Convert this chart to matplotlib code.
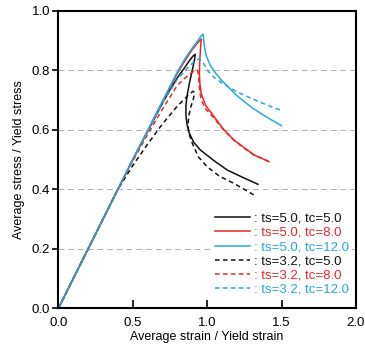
import matplotlib
matplotlib.use("Agg")
import matplotlib.pyplot as plt

plt.rcParams['font.family'] = ['Liberation Sans', 'DejaVu Sans']

BLACK = '#111111'
RED = '#e8262a'
CYAN = '#27a9d9'

# ts=5.0, tc=5.0 (solid black)
s50_5_x = [0.0, 0.5, 0.6, 0.7, 0.75, 0.8, 0.85, 0.88, 0.905, 0.92, 0.915, 0.90, 0.88, 0.865, 0.857, 0.858, 0.866, 0.88, 0.91, 0.955, 1.05, 1.135, 1.24, 1.342]
s50_5_y = [0.0, 0.5, 0.595, 0.69, 0.735, 0.775, 0.81, 0.832, 0.848, 0.854, 0.835, 0.80, 0.755, 0.715, 0.68, 0.645, 0.615, 0.589, 0.558, 0.532, 0.495, 0.465, 0.44, 0.417]
# ts=5.0, tc=8.0 (solid red)
s50_8_x = [0.0, 0.5, 0.6, 0.7, 0.8, 0.85, 0.9, 0.935, 0.955, 0.96, 0.955, 0.95, 0.948, 0.951, 0.96, 0.99, 1.045, 1.11, 1.18, 1.25, 1.315, 1.416]
s50_8_y = [0.0, 0.5, 0.597, 0.695, 0.79, 0.832, 0.87, 0.892, 0.903, 0.905, 0.87, 0.83, 0.79, 0.757, 0.722, 0.682, 0.645, 0.602, 0.566, 0.54, 0.516, 0.493]
# ts=5.0, tc=12.0 (solid cyan)
s50_12_x = [0.0, 0.5, 0.6, 0.7, 0.8, 0.85, 0.9, 0.94, 0.962, 0.972, 0.976, 0.983, 0.995, 1.02, 1.05, 1.1, 1.2, 1.3, 1.4, 1.5]
s50_12_y = [0.0, 0.5, 0.598, 0.697, 0.795, 0.838, 0.875, 0.902, 0.917, 0.922, 0.905, 0.875, 0.848, 0.818, 0.795, 0.765, 0.715, 0.675, 0.643, 0.614]
# ts=3.2, tc=5.0 (dashed black)
s32_5_x = [0.0, 0.4, 0.5, 0.6, 0.7, 0.8, 0.87, 0.905, 0.915, 0.908, 0.892, 0.878, 0.872, 0.876, 0.9, 0.94, 1.0, 1.08, 1.18, 1.315]
s32_5_y = [0.0, 0.4, 0.48, 0.552, 0.62, 0.68, 0.715, 0.73, 0.725, 0.705, 0.68, 0.65, 0.622, 0.59, 0.555, 0.51, 0.476, 0.445, 0.42, 0.381]
# ts=3.2, tc=8.0 (dashed red)
s32_8_x = [0.0, 0.45, 0.5, 0.6, 0.7, 0.8, 0.88, 0.915, 0.935, 0.942, 0.945, 0.95, 0.96, 0.99, 1.045, 1.11, 1.18, 1.25, 1.315, 1.41]
s32_8_y = [0.0, 0.45, 0.495, 0.585, 0.67, 0.75, 0.787, 0.798, 0.80, 0.785, 0.76, 0.73, 0.70, 0.67, 0.64, 0.60, 0.565, 0.538, 0.515, 0.495]
# ts=3.2, tc=12.0 (dashed cyan)
s32_12_x = [0.0, 0.5, 0.6, 0.7, 0.8, 0.88, 0.92, 0.945, 0.965, 0.985, 1.01, 1.05, 1.1, 1.2, 1.3, 1.4, 1.5]
s32_12_y = [0.0, 0.5, 0.595, 0.69, 0.77, 0.815, 0.832, 0.838, 0.832, 0.815, 0.795, 0.775, 0.757, 0.728, 0.705, 0.684, 0.665]

series = [
    (s50_5_x, s50_5_y, BLACK, '-', ': ts=5.0, tc=5.0'),
    (s50_8_x, s50_8_y, RED, '-', ': ts=5.0, tc=8.0'),
    (s50_12_x, s50_12_y, CYAN, '-', ': ts=5.0, tc=12.0'),
    (s32_5_x, s32_5_y, BLACK, '--', ': ts=3.2, tc=5.0'),
    (s32_8_x, s32_8_y, RED, '--', ': ts=3.2, tc=8.0'),
    (s32_12_x, s32_12_y, CYAN, '--', ': ts=3.2, tc=12.0'),
]

fig = plt.figure(figsize=(3.65, 3.5), dpi=100)
ax = fig.add_axes([0.16, 0.119, 0.815, 0.85])

for yv in [0.2, 0.4, 0.6, 0.8]:
    ax.axhline(yv, color='#b0b0b0', lw=0.7, ls=(0, (6, 4)), zorder=0)

for x, y, c, ls, lab in series:
    if ls == '--':
        ax.plot(x, y, color=c, lw=1.1, ls=(0, (3, 2.2)), label=lab)
    else:
        ax.plot(x, y, color=c, lw=1.1, ls='-', label=lab)

ax.set_xlim(0, 2.0)
ax.set_ylim(0, 1.0)
ax.set_xticks([0.0, 0.5, 1.0, 1.5, 2.0])
ax.set_xticklabels(['0.0', '0.5', '1.0', '1.5', '2.0'])
ax.set_yticks([0.0, 0.2, 0.4, 0.6, 0.8, 1.0])
ax.set_yticklabels(['0.0', '0.2', '0.4', '0.6', '0.8', '1.0'])
ax.tick_params(axis='x', direction='in', length=6, width=1.2, labelsize=9.5, pad=6)
ax.tick_params(axis='y', direction='out', length=4, width=1.2, labelsize=9.5, pad=2)
for sp in ax.spines.values():
    sp.set_linewidth(1.5)

ax.set_xlabel('Average strain / Yield strain', fontsize=9, labelpad=2)
ax.set_ylabel('Average stress / Yield stress', fontsize=9, labelpad=5)

leg = ax.legend(loc='lower right', bbox_to_anchor=(1.0, 0.02), frameon=True,
                facecolor='white', edgecolor='none', framealpha=1.0, fancybox=False,
                fontsize=9.5, handlelength=2.6, handletextpad=0.35,
                labelspacing=0.15, borderaxespad=0.3, borderpad=0.2)
for txt, (_, _, c, _, _) in zip(leg.get_texts(), series):
    txt.set_color(c)

fig.savefig('out.png', dpi=100)
